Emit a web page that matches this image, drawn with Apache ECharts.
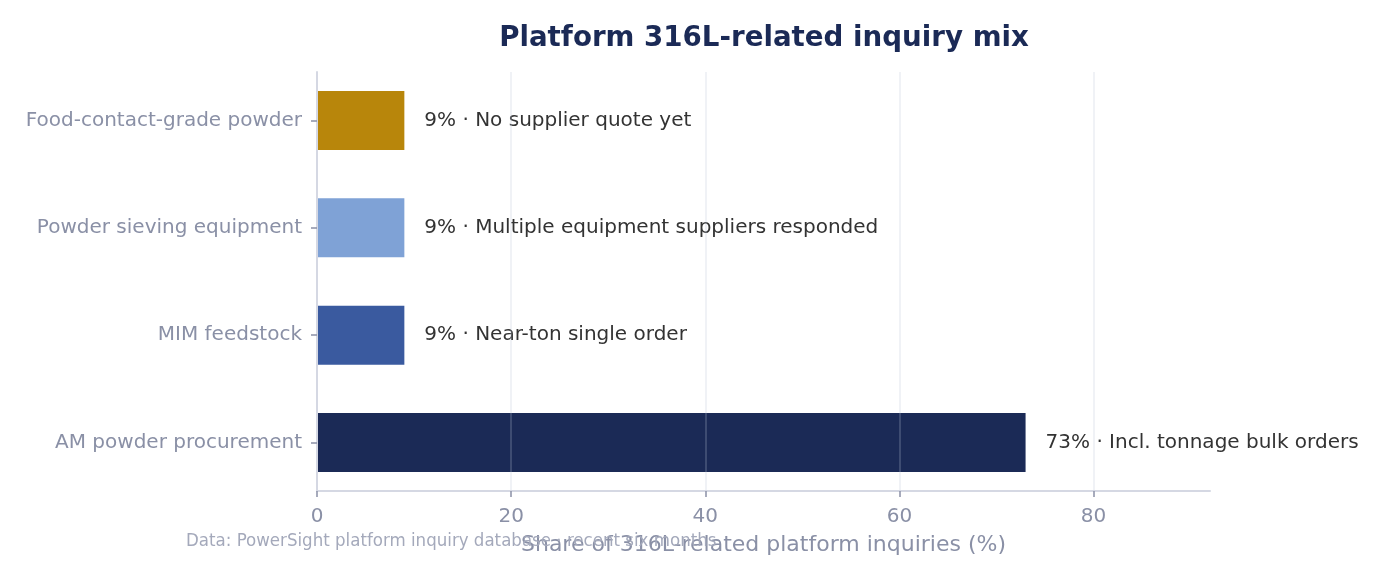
<!DOCTYPE html>
<html>
<head>
<meta charset="utf-8">
<script src="https://cdn.jsdelivr.net/npm/echarts@6/dist/echarts.min.js"></script>
<style>
html, body { margin: 0; padding: 0; background: #fff; }
#main { width: 1383px; height: 578px; }
</style>
</head>
<body>
<div id="main"></div>
<script>
// categories, bottom to top
let categories = ['AM powder procurement', 'MIM feedstock', 'Powder sieving equipment', 'Food-contact-grade powder']
let shares = [73, 9, 9, 9]
let notes = ['Incl. tonnage bulk orders', 'Near-ton single order', 'Multiple equipment suppliers responded', 'No supplier quote yet']
let barColors = ['#1b2a56', '#3a5a9f', '#7fa2d6', '#b8860b']
let xTicks = [0, 20, 40, 60, 80]

let myChart = echarts.init(document.getElementById('main'))

let catIndex = []
let dataList = []
for (let i in shares) {
    catIndex.push(Number(i))
    dataList.push({
        value: shares[i],
        itemStyle: { color: barColors[i] },
        label: { formatter: shares[i] + '% · ' + notes[i] }
    })
}

let font = 'DejaVu Sans'

// axes grid (matplotlib-like padding of 0.4525 around the bars) and a bar grid with plain category bands
let pad = 0.4525
let plotTop = 72, plotBottom = 87, plotH = 578 - plotTop - plotBottom
let unit = plotH / (3 + 2 * pad)
let shift = (0.5 - pad) * unit

let option = {
    backgroundColor: '#fff',
    animation: false,
    title: [
        {
            text: 'Platform 316L-related inquiry mix',
            left: 759,
            top: 20,
            textAlign: 'center',
            textStyle: { fontFamily: font, fontSize: 27.7, fontWeight: 'bold', color: '#1b2a56' }
        },
        {
            text: 'Data: PowerSight platform inquiry database · recent six months',
            left: 181,
            top: 527,
            textStyle: { fontFamily: 'DejaVu Sans Condensed', fontSize: 18.5, fontWeight: 'normal', color: '#a4a9bb' }
        }
    ],
    grid: [
        { left: 317, right: 173, top: plotTop, bottom: plotBottom },
        { left: 317, right: 173, top: plotTop - shift, bottom: plotBottom - shift }
    ],
    xAxis: [
        {
            type: 'value',
            gridIndex: 0,
            min: 0,
            max: 92,
            interval: 20,
            z: 5,
            name: 'Share of 316L-related platform inquiries (%)',
            nameLocation: 'middle',
            nameGap: 43,
            nameTextStyle: { fontFamily: font, fontSize: 22, color: '#8a90a6' },
            axisLine: { show: true, onZero: false, lineStyle: { color: '#d5d8e3', width: 2 } },
            axisTick: { show: true, length: 6, customValues: xTicks, lineStyle: { color: '#8a90a6', width: 1.5 } },
            axisLabel: {
                fontFamily: font, fontSize: 20, color: '#8a90a6', margin: 16,
                customValues: xTicks
            },
            splitLine: { show: true, lineStyle: { color: 'rgba(190,196,215,0.3)', width: 1.5 } }
        },
        {
            type: 'value',
            gridIndex: 1,
            min: 0,
            max: 92,
            show: false
        }
    ],
    yAxis: [
        {
            type: 'value',
            gridIndex: 0,
            min: -pad,
            max: 3 + pad,
            z: 5,
            axisLine: { show: true, onZero: false, lineStyle: { color: '#d5d8e3', width: 2 } },
            axisTick: { show: true, length: 6, customValues: catIndex, lineStyle: { color: '#8a90a6', width: 1.5 } },
            axisLabel: {
                fontFamily: font, fontSize: 20, color: '#8a90a6', margin: 15,
                customValues: catIndex,
                formatter: function (v) { return categories[Math.round(v)] }
            },
            splitLine: { show: false }
        },
        {
            type: 'category',
            gridIndex: 1,
            data: categories,
            show: false
        }
    ],
    series: [
        {
            type: 'bar',
            xAxisIndex: 1,
            yAxisIndex: 1,
            data: dataList,
            barWidth: '55%',
            label: {
                show: true,
                position: 'right',
                distance: 20,
                fontFamily: font,
                fontSize: 20,
                color: '#333333'
            }
        }
    ]
}

myChart.setOption(option)
</script>
</body>
</html>
